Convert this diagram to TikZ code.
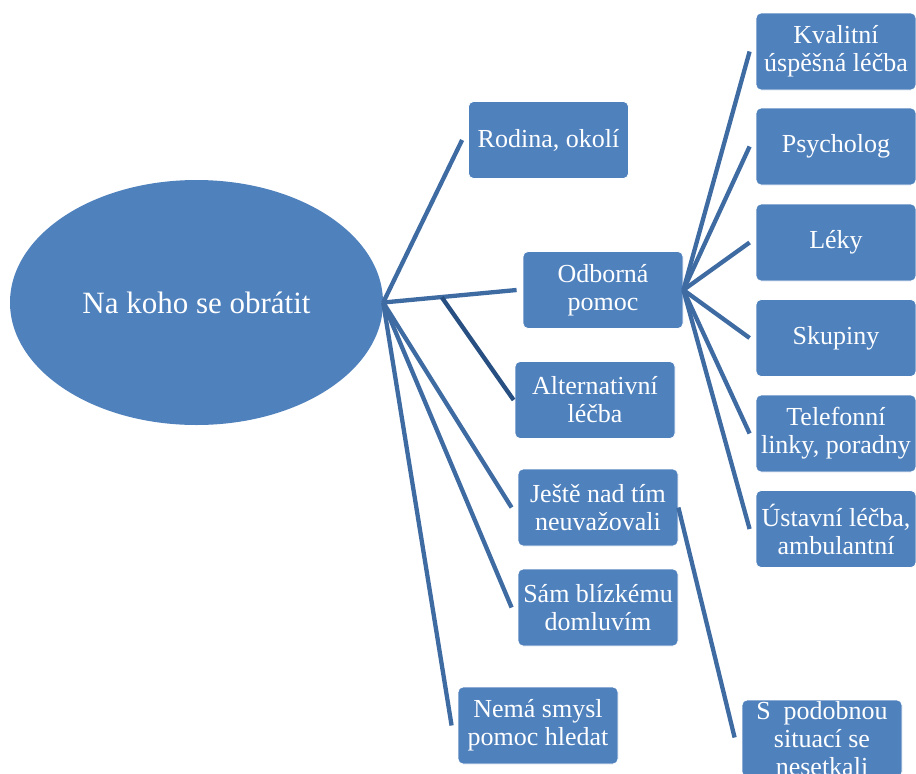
\documentclass[tikz,border=0pt]{standalone}
\usepackage{fontspec}
\setmainfont{Liberation Serif}
\usetikzlibrary{calc,shapes.geometric}
\definecolor{boxblue}{HTML}{4F81BD}
\definecolor{linkblue}{HTML}{3F6BA3}
\definecolor{darklink}{HTML}{274F82}
\begin{document}
\begin{tikzpicture}[x=1pt,y=-1pt,
  item/.style={draw=white, line width=0.8pt, fill=boxblue, rounded corners=5pt,
    minimum width=160pt, minimum height=77pt, inner sep=0pt, align=center,
    text=white, font=\fontsize{26}{28}\selectfont},
  link/.style={draw=linkblue, line width=4.3pt},
  branch/.style={draw=darklink, line width=4.3pt},
]
\clip (0,0) rectangle (916,774);
\fill[white] (0,0) rectangle (916,774);

% central topic
\node[ellipse, fill=boxblue, minimum width=373pt, minimum height=245pt,
  inner sep=0pt, text=white, font=\fontsize{31}{34}\selectfont]
  (root) at (196.5,302.5) {Na koho se obrátit};

% first level
\node[item] (rod) at (548.5,140)   {Rodina, okolí};
\node[item] (odb) at (603,290)     {Odborná\\pomoc};
\node[item] (alt) at (595,400)     {Alternativní\\léčba};
\node[item] (jes) at (598,507.5)   {Ještě nad tím\\neuvažovali};
\node[item] (sam) at (598,607.5)   {Sám blízkému\\domluvím};
\node[item] (nem) at (538,725.5)   {Nemá smysl\\pomoc hledat};

% second level, professional help
\node[item] (kva) at (836,51.5)    {Kvalitní\\úspěšná léčba};
\node[item] (psy) at (836,146.5)   {Psycholog};
\node[item] (lek) at (836,242.5)   {Léky};
\node[item] (sku) at (836,338)     {Skupiny};
\node[item] (tel) at (836,433.5)   {Telefonní\\linky, poradny};
\node[item] (ust) at (836,529)     {Ústavní léčba,\\ambulantní};

% second level, not considered yet
\node[item] (spo) at (822,738.5)   {S~~podobnou\\situací se\\nesetkali};

% connectors from the central topic
\foreach \n in {rod,odb,jes,sam,nem}
  \draw[link] (root.east) -- ($(\n.west)+(-6,0)$);
\coordinate (fork) at ($(root.east)!0.42!(odb.west)$);
\draw[branch] (fork) -- ($(alt.west)+(-1,0)$);

% connectors from professional help
\foreach \n in {kva,psy,lek,sku,tel,ust}
  \draw[link] (odb.east) -- ($(\n.west)+(-6,0)$);

% connector from "not considered yet"
\draw[link] (jes.east) -- ($(spo.west)+(-7,-1)$);
\end{tikzpicture}
\end{document}
